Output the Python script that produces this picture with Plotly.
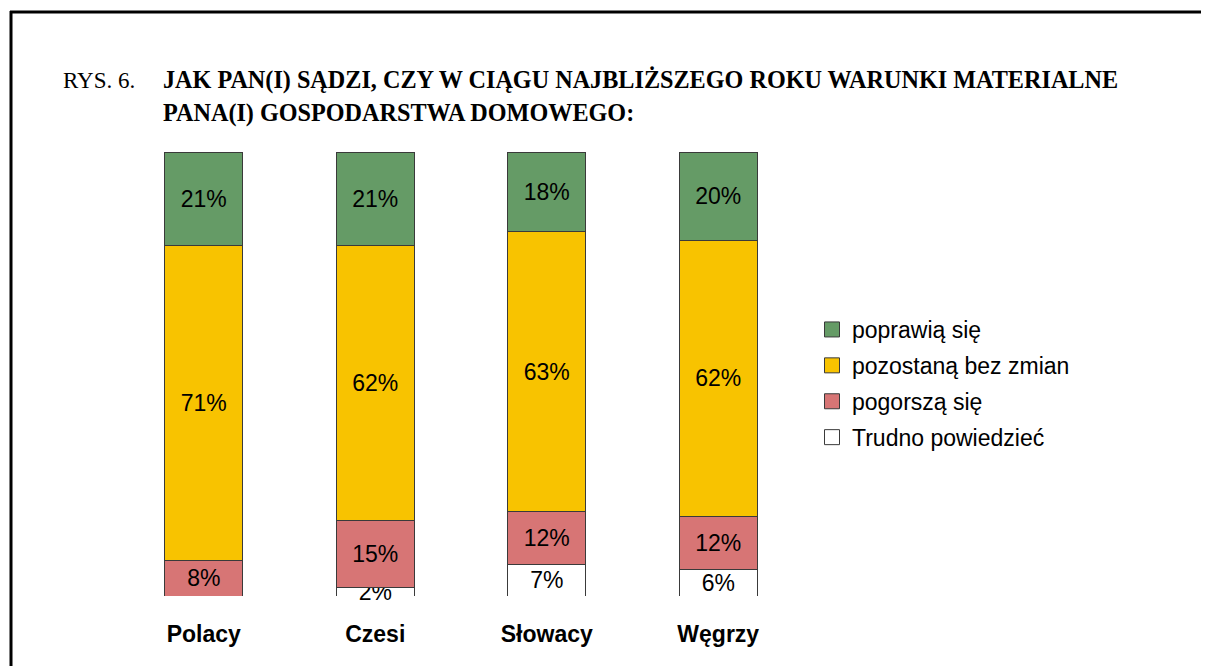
import plotly.graph_objects as go

# data (percent)
kraje = ['Polacy', 'Czesi', 'Słowacy', 'Węgrzy']
trudno = [0, 2, 7, 6]
pogorsza = [8, 15, 12, 12]
bez_zmian = [71, 62, 63, 62]
poprawia = [21, 21, 18, 20]

series = [
    ('Trudno powiedzieć', trudno, '#FFFFFF'),
    ('pogorszą się', pogorsza, '#D77575'),
    ('pozostaną bez zmian', bez_zmian, '#F8C300'),
    ('poprawią się', poprawia, '#659B66'),
]

# the page adds an 8px body margin, so work in screen pixels minus 8
OFF = 8
W, H = 1209 - OFF, 666 - OFF
L, R, T, B = 165 - 47 - OFF, 804 - OFF, 152 - OFF, 596 - OFF  # plot area


def px(x):
    return (x - OFF - L) / (R - L)


def py(y):
    return (B - (y - OFF)) / (B - T)


fig = go.Figure()
for i, (name, vals, col) in enumerate(series):
    fig.add_trace(go.Bar(
        x=kraje, y=vals, name=name, showlegend=False,
        marker=dict(color=col, line=dict(color='#3a3a3a', width=1)),
        text=[f'{v}%' if v > 0 else '' for v in vals],
        textposition='inside', insidetextanchor='middle',
        constraintext='none', textangle=0, cliponaxis=False,
        textfont=dict(family='Liberation Sans, Arial', size=23, color='#000000'),
        hoverinfo='skip',
    ))

# legend entries with bigger square swatches
for i, (name, vals, col) in enumerate(series):
    fig.add_trace(go.Scatter(
        x=[None], y=[None], mode='markers', name=name,
        marker=dict(symbol='square', size=15, color=col,
                    line=dict(color='#3a3a3a', width=1)),
        legendgroup=f'g{i}', legendrank=len(series) - i,
        hoverinfo='skip',
    ))

fig.update_layout(
    width=W, height=H,
    barmode='stack', bargap=0.545,
    plot_bgcolor='white', paper_bgcolor='white',
    margin=dict(l=L, r=W - R, t=T, b=H - B, pad=0),
    xaxis=dict(showline=False, showgrid=False, zeroline=False,
               ticks='outside', ticklen=17, tickcolor='rgba(0,0,0,0)',
               tickfont=dict(family='Liberation Sans, Arial', size=23, color='#000000'),
               tickprefix='<b>', ticksuffix='</b>'),
    yaxis=dict(range=[0, 100], visible=False),
    legend=dict(x=px(812), y=py(308), xanchor='left', yanchor='top',
                traceorder='grouped', tracegroupgap=3,
                font=dict(family='Liberation Sans, Arial', size=23, color='#000000'),
                bgcolor='rgba(0,0,0,0)'),
    font=dict(family='Liberation Sans, Arial', color='#000000'),
)

# title lines
fig.add_annotation(x=px(61), y=py(80), xref='paper', yref='paper',
                   xanchor='left', yanchor='middle', showarrow=False,
                   text='RYS. 6.',
                   font=dict(family='Liberation Serif, Times New Roman', size=23, color='#000000'))
fig.add_annotation(x=px(161), y=py(80), xref='paper', yref='paper',
                   xanchor='left', yanchor='middle', showarrow=False,
                   text='<b>JAK PAN(I) SĄDZI, CZY W CIĄGU NAJBLIŻSZEGO ROKU WARUNKI MATERIALNE</b>',
                   font=dict(family='Liberation Serif, Times New Roman', size=24.2, color='#000000'))
fig.add_annotation(x=px(161), y=py(113), xref='paper', yref='paper',
                   xanchor='left', yanchor='middle', showarrow=False,
                   text='<b>PANA(I) GOSPODARSTWA DOMOWEGO:</b>',
                   font=dict(family='Liberation Serif, Times New Roman', size=24.2, color='#000000'))

# frame lines (top and left)
fig.add_shape(type='line', xref='paper', yref='paper',
              x0=px(10), x1=px(1215), y0=py(12), y1=py(12),
              line=dict(color='#000000', width=3))
fig.add_shape(type='line', xref='paper', yref='paper',
              x0=px(11), x1=px(11), y0=py(11), y1=py(680),
              line=dict(color='#000000', width=3))

fig.write_html("out.html")
